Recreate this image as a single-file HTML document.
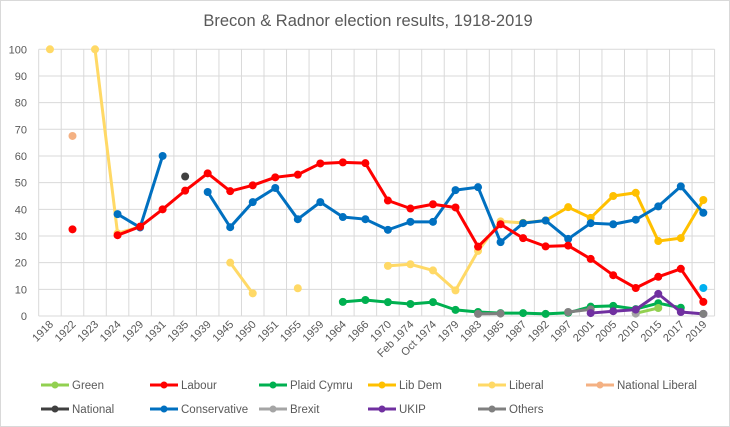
<!DOCTYPE html>
<html><head><meta charset="utf-8"><style>
html,body{margin:0;padding:0;background:#fff}
svg{display:block;font-family:"Liberation Sans",sans-serif}
</style></head><body>
<svg id="c" width="730" height="427" xmlns="http://www.w3.org/2000/svg"></svg>
<script>
const s=document.getElementById('c');let h='';
h+='<rect x="0.5" y="0.5" width="729" height="426" fill="#fff" stroke="#D9D9D9"/>';
h+='<text x="368" y="26" text-anchor="middle" font-size="16.5" fill="#595959">Brecon &amp; Radnor election results, 1918-2019</text>';
const x0=38.7,cw=22.53,Y=v=>316-2.667*v,X=i=>x0+cw*(i+0.5);
for(let k=0;k<=10;k++){const y=Y(k*10);h+=`<line x1="${x0}" x2="${x0+30*cw}" y1="${y}" y2="${y}" stroke="#D9D9D9"/>`;
h+=`<text x="27" y="${y+4}" text-anchor="end" font-size="11" fill="#595959">${k*10}</text>`;}
for(let i=0;i<=30;i++){const x=x0+cw*i;h+=`<line x1="${x}" x2="${x}" y1="${Y(100)}" y2="316" stroke="#D9D9D9"/>`;}
const cats=['1918','1922','1923','1924','1929','1931','1935','1939','1945','1950','1951','1955','1959','1964','1966','1970','Feb 1974','Oct 1974','1979','1983','1985','1987','1992','1997','2001','2005','2010','2015','2017','2019'];
cats.forEach((c,i)=>{const x=X(i)+4,y=325;h+=`<text transform="translate(${x},${y}) rotate(-45)" text-anchor="end" font-size="11" fill="#595959">${c}</text>`;});
const n=null;
function ser(col,vals,start){let segs=[],cur=[];vals.forEach((v,j)=>{const i=start+j;if(v==null){if(cur.length)segs.push(cur);cur=[];}else cur.push([X(i),Y(v)]);});if(cur.length)segs.push(cur);
segs.forEach(sg=>{if(sg.length>1)h+=`<polyline points="${sg.map(p=>p.join(',')).join(' ')}" fill="none" stroke="${col}" stroke-width="3" stroke-linejoin="round"/>`;sg.forEach(p=>h+=`<circle cx="${p[0]}" cy="${p[1]}" r="4" fill="${col}"/>`);});}
ser('#FFD966',[100,n,100,31,33.5,n,n,n,20,8.5,n,10.4,n,n,n,18.8,19.4,17.1,9.6,24.4,35.5,34.9],0);
ser('#F4B183',[67.5],1);
ser('#404040',[52.3],6);
ser('#FFC000',[34.9,35.8,40.8,36.8,45,46.2,28.1,29.2,43.5],21);
ser('#0070C0',[38.2,33.2,60,n,46.5,33.3,42.7,48,36.3,42.7,37.1,36.3,32.3,35.3,35.3,47.2,48.3,27.7,34.8,35.8,28.9,34.8,34.4,36.1,41.1,48.6,38.7],3);
ser('#00B050',[5.3,6,5.2,4.5,5.2,2.3,1.5,1.1,1.1,0.8,1.2,3.5,3.8,2.6,4.8,3.1],13);
ser('#808080',[0.8,0.9],19);
ser('#808080',[1.5,2.5],23);
ser('#92D050',[1,3],26);
ser('#A5A5A5',[0.9],26);
ser('#7030A0',[1.1,1.8,2.4,8.3,1.5,0.8],24);
ser('#808080',[0.8],29);
ser('#FF0000',[32.5,n,30.3,33.5,40,47,53.5,46.8,49,52,53,57.2,57.6,57.3,43.3,40.3,41.9,40.7,26,34.4,29.2,26.1,26.4,21.4,15.3,10.5,14.7,17.7,5.3],1);
h+=`<circle cx="${X(29)}" cy="${Y(10.5)}" r="4" fill="#00B0F0"/>`;
const L=[['Green','#92D050',41,385],['Labour','#FF0000',150,385],['Plaid Cymru','#00B050',259,385],['Lib Dem','#FFC000',368,385],['Liberal','#FFD966',478,385],['National Liberal','#F4B183',586,385],
['National','#404040',41,409],['Conservative','#0070C0',150,409],['Brexit','#A5A5A5',259,409],['UKIP','#7030A0',368,409],['Others','#808080',478,409]];
L.forEach(([t,c,x,y])=>{h+=`<line x1="${x}" x2="${x+28}" y1="${y}" y2="${y}" stroke="${c}" stroke-width="3"/><circle cx="${x+14}" cy="${y}" r="3.5" fill="${c}"/><text x="${x+31}" y="${y+4}" font-size="11.5" fill="#595959">${t}</text>`;});
s.innerHTML=h;
</script>
</body></html>
